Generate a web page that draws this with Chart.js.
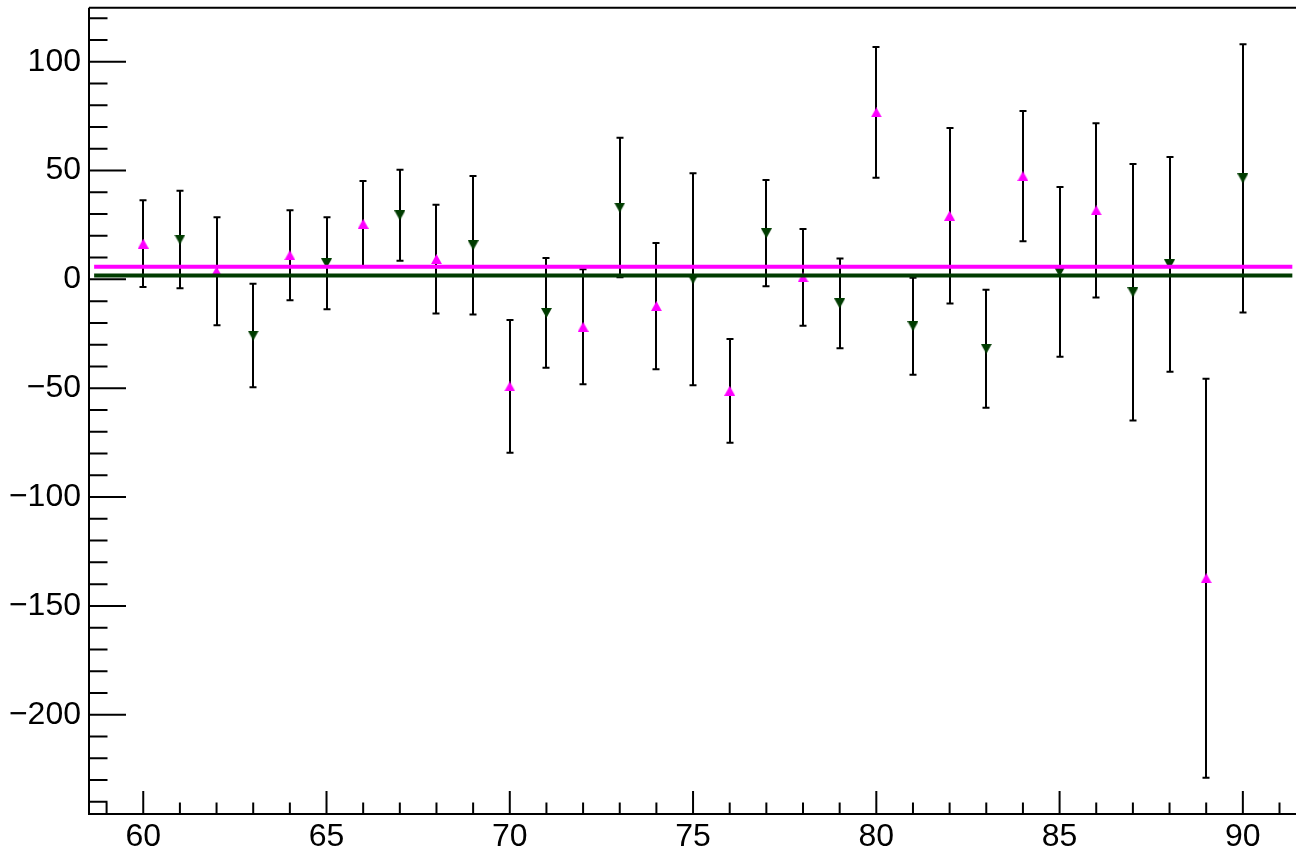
<!DOCTYPE html>
<html>
<head>
<meta charset="utf-8">
<script src="https://cdn.jsdelivr.net/npm/chart.js@4/dist/chart.umd.min.js"></script>
<style>
html,body{margin:0;padding:0;background:#fff;overflow:hidden;}
#wrap{width:1296px;height:852px;}
canvas{display:block;}
</style>
</head>
<body>
<div id="wrap"><canvas id="c" width="1296" height="852"></canvas></div>
<script>
// ---- data ----
const magentaX      = [60, 62, 64, 66, 68, 70, 72, 74, 76, 78, 80, 82, 84, 86, 89];
const magentaValues = [16.4, 3.7, 11.1, 25.5, 9.3, -49.2, -21.8, -12.3, -51.2, 0.9, 76.7, 29.2, 47.4, 31.7, -137.3];
const magentaErrors = [19.9, 24.8, 20.7, 19.7, 25.0, 30.5, 26.4, 29.0, 23.8, 22.2, 30.0, 40.3, 29.9, 40.0, 91.6];

const greenX      = [61, 63, 65, 67, 69, 71, 73, 75, 77, 79, 81, 83, 85, 87, 88, 90];
const greenValues = [18.3, -25.8, 7.4, 29.4, 15.7, -15.4, 33.0, 0.1, 21.2, -11.0, -21.5, -31.9, 3.4, -5.9, 6.9, 46.4];
const greenErrors = [22.4, 23.8, 21.1, 20.9, 31.8, 25.2, 32.0, 48.7, 24.4, 20.6, 22.3, 27.1, 39.0, 58.9, 49.3, 61.6];

const fitRange        = [58.66, 91.35];
const magentaFitLevel = 5.8;
const greenFitLevel   = 1.8;

const xTickLabels = [60, 65, 70, 75, 80, 85, 90];
const yTickLabels = [-200, -150, -100, -50, 0, 50, 100];
const xRange = [58.52, 91.45];
const yRange = [-245.6, 124.8];

// ---- styles ----
const MAGENTA = '#ff00ff';
const GREEN = '#003c00';
const FONT = "'Liberation Sans', Arial, Helvetica, sans-serif";

function triangleImage(color, up) {
  const w = 11, h = 10;
  const c = document.createElement('canvas');
  c.width = w; c.height = h;
  const g = c.getContext('2d');
  g.fillStyle = color;
  g.beginPath();
  if (up) { g.moveTo(w / 2, 0); g.lineTo(w, h); g.lineTo(0, h); }
  else { g.moveTo(0, 0); g.lineTo(w, 0); g.lineTo(w / 2, h); }
  g.closePath();
  g.fill();
  return c;
}

const toPoints = (xs, ys) => xs.map((x, i) => ({ x: x, y: ys[i] }));

const errorBarPlugin = {
  id: 'errorBars',
  beforeDatasetDraw(chart, args) {
    const ds = chart.data.datasets[args.index];
    if (!ds.errorValues) return;
    const xs = chart.scales.x, ys = chart.scales.y;
    const ctx = chart.ctx;
    ctx.save();
    ctx.strokeStyle = '#000';
    ctx.lineWidth = 2;
    ctx.lineCap = 'butt';
    ds.data.forEach((p, i) => {
      const e = ds.errorValues[i];
      const px = Math.round(xs.getPixelForValue(p.x));
      const top = ys.getPixelForValue(p.y + e);
      const bot = ys.getPixelForValue(p.y - e);
      ctx.beginPath();
      ctx.moveTo(px, top);
      ctx.lineTo(px, bot);
      ctx.moveTo(px - 3.5, top);
      ctx.lineTo(px + 3.5, top);
      ctx.moveTo(px - 3.5, bot);
      ctx.lineTo(px + 3.5, bot);
      ctx.stroke();
    });
    ctx.restore();
  }
};

const framePlugin = {
  id: 'frame',
  afterDraw(chart) {
    const ctx = chart.ctx;
    const a = chart.chartArea;
    const xs = chart.scales.x, ys = chart.scales.y;
    ctx.save();
    ctx.strokeStyle = '#000';
    ctx.lineWidth = 2;
    ctx.beginPath();
    ctx.moveTo(a.left, a.top); ctx.lineTo(a.right + 2, a.top);
    ctx.moveTo(a.left, a.top); ctx.lineTo(a.left, a.bottom);
    ctx.moveTo(a.left - 1, a.bottom); ctx.lineTo(a.right + 2, a.bottom);
    ctx.stroke();
    // y ticks (inside)
    ctx.beginPath();
    for (let v = -240; v <= 120; v += 10) {
      const py = ys.getPixelForValue(v);
      const len = (v % 50 === 0) ? 37 : 18.5;
      ctx.moveTo(a.left, py); ctx.lineTo(a.left + len, py);
    }
    // x ticks (inside)
    for (let v = 59; v <= 91; v += 1) {
      const px = xs.getPixelForValue(v);
      const len = (v % 5 === 0) ? 23 : 11.5;
      ctx.moveTo(px, a.bottom); ctx.lineTo(px, a.bottom - len);
    }
    ctx.stroke();
    ctx.restore();
  }
};

const labelFmt = v => (v < 0 ? '\u2212' + Math.abs(v) : String(v));
const noPad = s => { s.paddingTop = 0; s.paddingBottom = 0; s.paddingLeft = 0; s.paddingRight = 0; };

new Chart(document.getElementById('c'), {
  type: 'scatter',
  data: {
    datasets: [
      {
        label: 'magenta fit',
        data: fitRange.map(x => ({ x: x, y: magentaFitLevel })),
        showLine: true, borderColor: MAGENTA, borderWidth: 4, pointRadius: 0,
        borderCapStyle: 'butt', order: 0
      },
      {
        label: 'green fit',
        data: fitRange.map(x => ({ x: x, y: greenFitLevel })),
        showLine: true, borderColor: GREEN, borderWidth: 4, pointRadius: 0,
        borderCapStyle: 'butt', order: 0
      },
      {
        label: 'magenta',
        data: toPoints(magentaX, magentaValues),
        errorValues: magentaErrors,
        pointStyle: triangleImage(MAGENTA, true), pointRadius: 6,
        backgroundColor: MAGENTA, borderColor: MAGENTA, showLine: false, order: 1
      },
      {
        label: 'green',
        data: toPoints(greenX, greenValues),
        errorValues: greenErrors,
        pointStyle: triangleImage(GREEN, false), pointRadius: 6,
        backgroundColor: GREEN, borderColor: GREEN, showLine: false, order: 1
      }
    ]
  },
  options: {
    responsive: false,
    animation: false,
    events: [],
    devicePixelRatio: 1,
    layout: { autoPadding: false, padding: { top: 7.7, right: 0, bottom: 0, left: 0 } },
    plugins: { legend: { display: false }, tooltip: { enabled: false }, title: { display: false } },
    scales: {
      x: {
        type: 'linear', min: xRange[0], max: xRange[1],
        grid: { display: false, drawTicks: false },
        border: { display: false },
        afterBuildTicks: s => { s.ticks = xTickLabels.map(v => ({ value: v })); },
        afterFit: s => { s.height = 38; noPad(s); },
        ticks: { color: '#000', font: { family: FONT, size: 32 }, padding: 4, maxRotation: 0, autoSkip: false, callback: labelFmt }
      },
      y: {
        type: 'linear', min: yRange[0], max: yRange[1],
        grid: { display: false, drawTicks: false },
        border: { display: false },
        afterBuildTicks: s => { s.ticks = yTickLabels.map(v => ({ value: v })); },
        afterFit: s => { s.width = 89; noPad(s); },
        ticks: { color: '#000', font: { family: FONT, size: 32 }, padding: 8, autoSkip: false, callback: labelFmt }
      }
    }
  },
  plugins: [errorBarPlugin, framePlugin]
});
</script>
</body>
</html>
